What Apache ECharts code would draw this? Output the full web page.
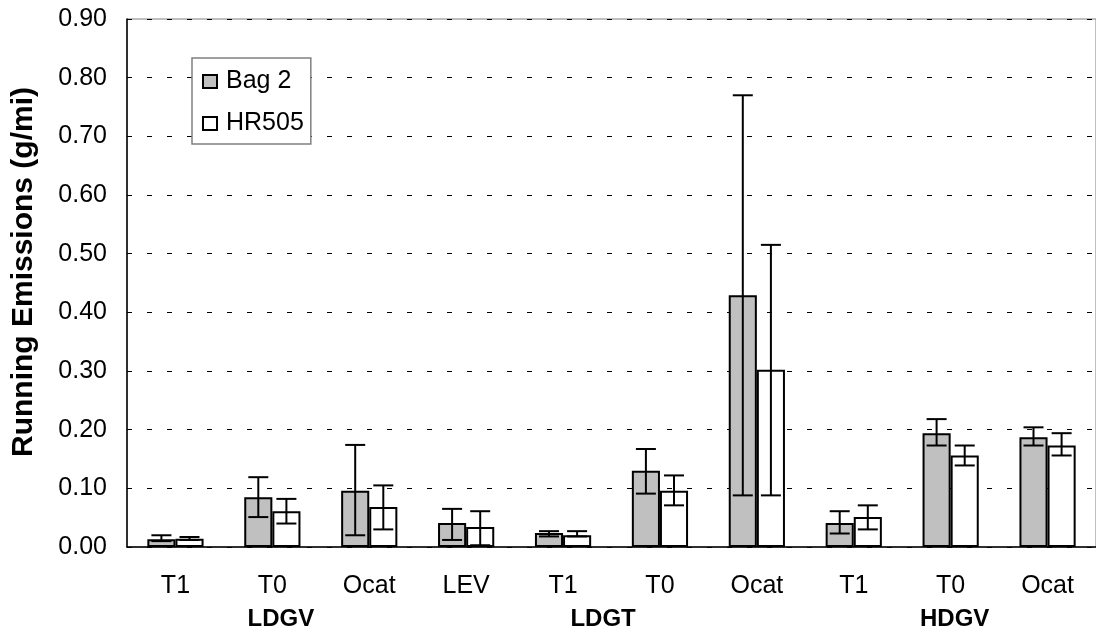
<!DOCTYPE html>
<html lang="en">
<head>
	<meta charset="UTF-8">
	<title>Running Emissions</title>
	<script src="https://cdn.jsdelivr.net/npm/echarts@6/dist/echarts.min.js"></script>
	<style>
		html, body { margin: 0; padding: 0; background: #fff; }
		#charts { width: 1096px; height: 633px; }
	</style>
</head>
<body>
<div id="charts"></div>
<script>
	var categories = ['T1', 'T0', 'Ocat', 'LEV', 'T1', 'T0', 'Ocat', 'T1', 'T0', 'Ocat'];
	var groupLabels = ['', 'LDGV', '', '', 'LDGT', '', '', '', 'HDGV', ''];
	var yTicks = [0, 0.9, 0.1];

	var bag2 = [0.013, 0.085, 0.096, 0.041, 0.024, 0.130, 0.429, 0.041, 0.194, 0.187];
	var bag2Low = [0.010, 0.051, 0.020, 0.012, 0.018, 0.091, 0.088, 0.023, 0.173, 0.173];
	var bag2High = [0.020, 0.119, 0.174, 0.065, 0.027, 0.167, 0.770, 0.061, 0.218, 0.204];

	var hr505 = [0.014, 0.061, 0.068, 0.034, 0.020, 0.096, 0.302, 0.051, 0.156, 0.173];
	var hr505Low = [0.012, 0.040, 0.030, 0.003, 0.018, 0.071, 0.088, 0.030, 0.139, 0.156];
	var hr505High = [0.017, 0.082, 0.105, 0.061, 0.027, 0.122, 0.515, 0.071, 0.173, 0.194];

	var FONT = '"Liberation Sans", Arial, sans-serif';
	var BAR_FRAC = 0.29;

	function errData(low, high) {
		var out = [];
		for (var i = 0; i < low.length; i++) {
			out.push([i, low[i], high[i]]);
		}
		return out;
	}

	// side: -1 for left bar, +1 for right bar
	function errRender(side) {
		return function (params, api) {
			var idx = api.value(0);
			var band = api.size([1, 0])[0];
			var shift = side * band * BAR_FRAC / 2;
			var lo = api.coord([idx, api.value(1)]);
			var hi = api.coord([idx, api.value(2)]);
			var x = lo[0] + shift;
			var cap = 10;
			var style = {stroke: '#000', lineWidth: 2};
			return {
				type: 'group',
				children: [
					{type: 'line', shape: {x1: x, y1: lo[1], x2: x, y2: hi[1]}, style: style},
					{type: 'line', shape: {x1: x - cap, y1: lo[1], x2: x + cap, y2: lo[1]}, style: style},
					{type: 'line', shape: {x1: x - cap, y1: hi[1], x2: x + cap, y2: hi[1]}, style: style}
				]
			};
		};
	}

	var charts = echarts.init(document.getElementById('charts'));

	charts.setOption({
		animation: false,
		textStyle: {fontFamily: FONT},
		grid: {
			left: 127,
			right: 0,
			top: 19,
			bottom: 86,
			show: true,
			borderColor: '#808080',
			borderWidth: 1
		},
		legend: {
			orient: 'vertical',
			left: 192,
			top: 58,
			padding: [11, 7, 8, 10],
			itemWidth: 14,
			itemHeight: 13,
			itemGap: 17,
			backgroundColor: '#fff',
			borderColor: '#808080',
			borderWidth: 1.5,
			borderRadius: 0,
			icon: 'rect',
			textStyle: {fontSize: 25, color: '#000', fontFamily: FONT, lineHeight: 25, padding: [0, 0, 0, 4]},
			data: ['Bag 2', 'HR505']
		},
		xAxis: [
			{
				type: 'category',
				data: categories,
				axisLine: {lineStyle: {color: '#000', width: 1.5}},
				axisTick: {inside: true, length: 7, lineStyle: {color: '#808080', width: 1.5}},
				axisLabel: {fontSize: 25, color: '#000', margin: 27, interval: 0}
			},
			{
				type: 'category',
				data: groupLabels,
				position: 'bottom',
				axisLine: {show: false},
				axisTick: {show: false},
				axisLabel: {
					interval: 0,
					margin: 60,
					formatter: function (v, i) {
						if (!v) return '';
						var pad = {1: 'a', 4: 'b', 8: 'c'}[i];
						return '{' + pad + '|' + v + '}';
					},
					rich: {
						a: {fontSize: 24, fontWeight: 'bold', color: '#000', padding: [0, 0, 0, 17]},
						b: {fontSize: 24, fontWeight: 'bold', color: '#000', padding: [0, 0, 0, 80]},
						c: {fontSize: 24, fontWeight: 'bold', color: '#000', padding: [0, 0, 0, 8]}
					}
				}
			}
		],
		yAxis: {
			type: 'value',
			min: yTicks[0],
			max: yTicks[1],
			interval: yTicks[2],
			name: 'Running Emissions (g/mi)',
			nameLocation: 'middle',
			nameGap: 88,
			nameTextStyle: {fontSize: 30, fontWeight: 'bold', color: '#000', padding: [0, 0, 0, 22]},
			axisLine: {show: true, lineStyle: {color: '#000', width: 1.5}},
			axisTick: {show: false},
			axisLabel: {
				fontSize: 25,
				color: '#000',
				margin: 20,
				formatter: function (v) { return v.toFixed(2); }
			},
			splitLine: {lineStyle: {color: '#000', type: [5, 15], width: 1}}
		},
		series: [
			{
				name: 'Bag 2',
				type: 'bar',
				barWidth: (BAR_FRAC * 100) + '%',
				barGap: '0%',
				itemStyle: {color: '#c0c0c0', borderColor: '#000', borderWidth: 2},
				data: bag2
			},
			{
				name: 'HR505',
				type: 'bar',
				barWidth: (BAR_FRAC * 100) + '%',
				barGap: '0%',
				itemStyle: {color: '#fff', borderColor: '#000', borderWidth: 2},
				data: hr505
			},
			{
				type: 'custom',
				renderItem: errRender(-1),
				encode: {x: 0, y: [1, 2]},
				z: 5,
				data: errData(bag2Low, bag2High)
			},
			{
				type: 'custom',
				renderItem: errRender(1),
				encode: {x: 0, y: [1, 2]},
				z: 5,
				data: errData(hr505Low, hr505High)
			}
		]
	});
</script>
</body>
</html>
